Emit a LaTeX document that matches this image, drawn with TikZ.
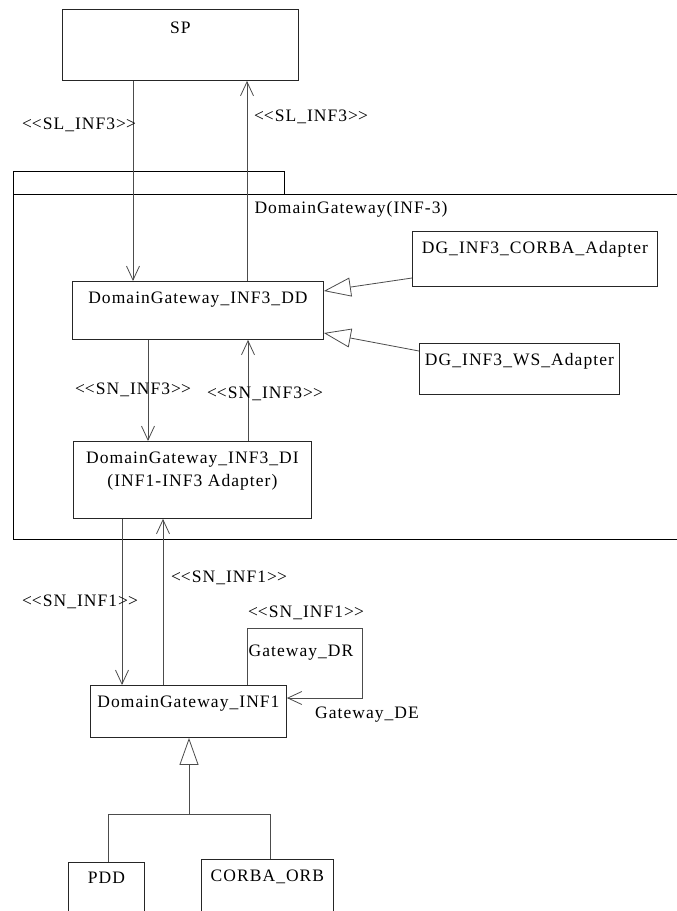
\documentclass[tikz,border=0pt]{standalone}
\usepackage{fontspec}
\setmainfont[LetterSpace=6]{Liberation Serif}
\usetikzlibrary{arrows.meta}
\newcommand{\stereo}[1]{\textless\kern0pt\textless #1\textgreater\kern0pt\textgreater}
\begin{document}
\begin{tikzpicture}[x=1pt,y=-1pt,
  every node/.style={font=\fontsize{17.5pt}{23pt}\selectfont},
  cls/.style={draw=black!85, line width=0.9pt, anchor=north west,
    inner xsep=0pt, inner ysep=0pt, align=center},
  tag/.style={inner sep=0pt},
  pkg/.style={draw=black, line width=0.9pt},
  link/.style={draw=black!70, line width=0.8pt},
  dep/.style={link, -{Straight Barb[length=14pt,width=13pt]}},
  gen/.style={link, -{Triangle[open, length=27pt, width=19pt, fill=white]}},
]
\clip (0,0) rectangle (677,911);
\fill[white] (0,0) rectangle (677,911);

% package frame with its tab
\draw[pkg] (13,171) rectangle (284,194);
\draw[pkg] (13,194) rectangle (720,539);
\node[tag] (pkgname) at (351,209) {DomainGateway(INF-3)};

% classes
\node[cls, minimum width=236pt, text height=24pt, text depth=47pt] (sp) at (62,9) {SP};
\node[cls, minimum width=251pt, text height=22pt, text depth=36pt] (dd) at (72,281) {DomainGateway\_INF3\_DD};
\node[cls, minimum width=245pt, text height=22pt, text depth=33pt] (corba) at (412,231) {DG\_INF3\_CORBA\_Adapter};
\node[cls, minimum width=200pt, text height=22pt, text depth=29pt] (ws) at (419,343) {DG\_INF3\_WS\_Adapter};
\node[cls, minimum width=238pt, text height=22pt, text depth=55pt] (di) at (73,441)
  {\begin{tabular}[t]{@{}c@{}}DomainGateway\_INF3\_DI\\(INF1-INF3 Adapter)\end{tabular}};
\node[cls, minimum width=196pt, text height=22pt, text depth=30pt] (inf1) at (90,685) {DomainGateway\_INF1};
\node[cls, minimum width=76pt, text height=21pt, text depth=60pt] (pdd) at (68,862) {PDD};
\node[cls, minimum width=132pt, text height=22pt, text depth=60pt] (orb) at (201,859) {CORBA\_ORB};

% connector columns
\coordinate (cA) at (133,0);
\coordinate (cB) at (247,0);
\coordinate (cC) at (148,0);
\coordinate (cD) at (248,0);
\coordinate (cE) at (122,0);
\coordinate (cF) at (163,0);
\coordinate (cG) at (247,0);
\coordinate (loopTR) at (362,628);
\coordinate (loopY) at (0,698);
\coordinate (join) at (189,814);

% dependencies
\draw[dep] (sp.south -| cA) -- (dd.north -| cA);
\draw[dep] (dd.north -| cB) -- (sp.south -| cB);
\draw[dep] (dd.south -| cC) -- (di.north -| cC);
\draw[dep] (di.north -| cD) -- (dd.south -| cD);
\draw[dep] (di.south -| cE) -- (inf1.north -| cE);
\draw[dep] (inf1.north -| cF) -- (di.south -| cF);
\draw[dep] (inf1.north -| cG) |- (loopTR) |- (inf1.east |- loopY);

% generalizations
\draw[gen] ([yshift=-47pt]corba.north west) -- ([yshift=-10pt]dd.north east);
\draw[gen] ([yshift=-8pt]ws.north west) -- ([yshift=-52pt]dd.north east);
\draw[link] ([xshift=2pt]pdd.north) |- (join);
\draw[link] (join) -| ([xshift=3pt]orb.north);
\draw[gen] (join) -- (inf1.south -| join);

% connector labels
\node[tag] (sl1) at (79,125) {\stereo{SL\_INF3}};
\node[tag] (sl2) at (311,117) {\stereo{SL\_INF3}};
\node[tag] (sn3a) at (133,390) {\stereo{SN\_INF3}};
\node[tag] (sn3b) at (265,394) {\stereo{SN\_INF3}};
\node[tag] (sn1a) at (229,578) {\stereo{SN\_INF1}};
\node[tag] (sn1b) at (80,602) {\stereo{SN\_INF1}};
\node[tag] (sn1c) at (306,613) {\stereo{SN\_INF1}};
\node[tag] (gdr) at (301,653) {Gateway\_DR};
\node[tag] (gde) at (367,715) {Gateway\_DE};
\end{tikzpicture}
\end{document}
